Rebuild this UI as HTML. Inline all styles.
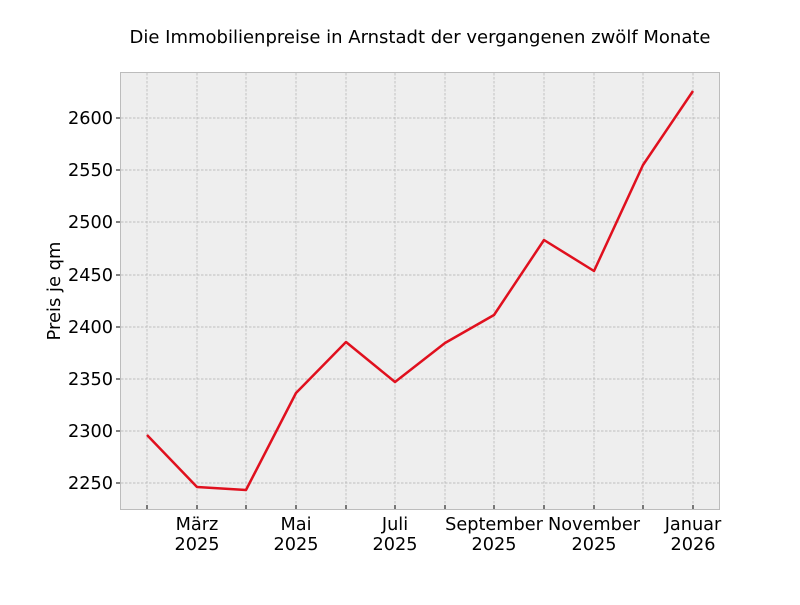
<!DOCTYPE html>
<html><head><meta charset="utf-8"><style>
html,body{margin:0;padding:0;background:#fff;}
svg text{font-family:"DejaVu Sans","Liberation Sans",sans-serif;fill:#000;}
</style></head><body>
<svg width="800" height="600" xmlns="http://www.w3.org/2000/svg">
<rect x="0" y="0" width="800" height="600" fill="#fff"/>
<text x="420" y="43" font-size="18" text-anchor="middle">Die Immobilienpreise in Arnstadt der vergangenen zwölf Monate</text>
<rect x="120.5" y="72.5" width="599" height="437" fill="#eeeeee"/>
<g stroke="#b0b0b0" stroke-width="0.7" stroke-dasharray="2.5,1.5">
<line x1="147" y1="73" x2="147" y2="509"/><line x1="197" y1="73" x2="197" y2="509"/>
<line x1="246" y1="73" x2="246" y2="509"/><line x1="296" y1="73" x2="296" y2="509"/>
<line x1="346" y1="73" x2="346" y2="509"/><line x1="395" y1="73" x2="395" y2="509"/>
<line x1="445" y1="73" x2="445" y2="509"/><line x1="494" y1="73" x2="494" y2="509"/>
<line x1="544" y1="73" x2="544" y2="509"/><line x1="594" y1="73" x2="594" y2="509"/>
<line x1="643" y1="73" x2="643" y2="509"/><line x1="693" y1="73" x2="693" y2="509"/>
<line x1="121" y1="118" x2="719" y2="118"/><line x1="121" y1="170" x2="719" y2="170"/>
<line x1="121" y1="222" x2="719" y2="222"/><line x1="121" y1="275" x2="719" y2="275"/>
<line x1="121" y1="327" x2="719" y2="327"/><line x1="121" y1="379" x2="719" y2="379"/>
<line x1="121" y1="431" x2="719" y2="431"/><line x1="121" y1="483" x2="719" y2="483"/>
</g>
<rect x="120.5" y="72.5" width="599" height="437" fill="none" stroke="#bcbcbc" stroke-width="1"/>
<g stroke="#000" stroke-width="1">
<line x1="147" y1="509" x2="147" y2="505"/><line x1="197" y1="509" x2="197" y2="505"/>
<line x1="246" y1="509" x2="246" y2="505"/><line x1="296" y1="509" x2="296" y2="505"/>
<line x1="346" y1="509" x2="346" y2="505"/><line x1="395" y1="509" x2="395" y2="505"/>
<line x1="445" y1="509" x2="445" y2="505"/><line x1="494" y1="509" x2="494" y2="505"/>
<line x1="544" y1="509" x2="544" y2="505"/><line x1="594" y1="509" x2="594" y2="505"/>
<line x1="643" y1="509" x2="643" y2="505"/><line x1="693" y1="509" x2="693" y2="505"/>
<line x1="116" y1="118" x2="120" y2="118"/><line x1="116" y1="170" x2="120" y2="170"/>
<line x1="116" y1="222" x2="120" y2="222"/><line x1="116" y1="275" x2="120" y2="275"/>
<line x1="116" y1="327" x2="120" y2="327"/><line x1="116" y1="379" x2="120" y2="379"/>
<line x1="116" y1="431" x2="120" y2="431"/><line x1="116" y1="483" x2="120" y2="483"/>
</g>
<g font-size="17.7" text-anchor="end">
<text x="113" y="124">2600</text><text x="113" y="176">2550</text>
<text x="113" y="228">2500</text><text x="113" y="281">2450</text>
<text x="113" y="333">2400</text><text x="113" y="385">2350</text>
<text x="113" y="437">2300</text><text x="113" y="489">2250</text>
</g>
<g font-size="17.7" text-anchor="middle">
<text x="197" y="530">März</text><text x="197" y="550">2025</text>
<text x="296" y="530">Mai</text><text x="296" y="550">2025</text>
<text x="395" y="530">Juli</text><text x="395" y="550">2025</text>
<text x="494" y="530">September</text><text x="494" y="550">2025</text>
<text x="594" y="530">November</text><text x="594" y="550">2025</text>
<text x="693" y="530">Januar</text><text x="693" y="550">2026</text>
</g>
<text x="0" y="0" font-size="17.9" text-anchor="middle" transform="translate(60,291) rotate(-90)">Preis je qm</text>
<polyline fill="none" stroke="#e0101e" stroke-width="2.5" stroke-linejoin="round"
points="147,435 197,487 246,490 296,393 346,342 395,382 445,343 494,315 544,240 594,271 643,165 693,91"/>
</svg>
</body></html>
